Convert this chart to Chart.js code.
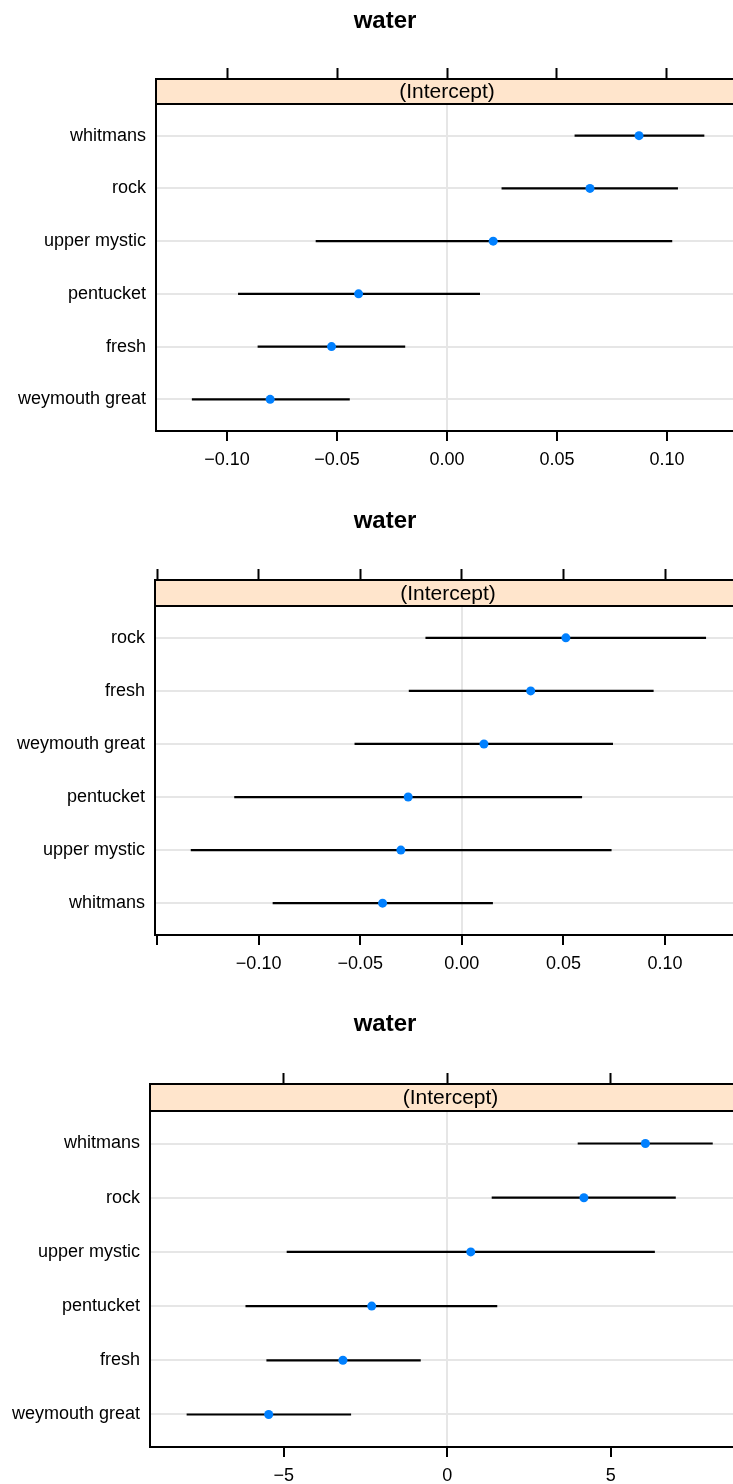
<!DOCTYPE html>
<html>
<head>
<meta charset="utf-8">
<title>water</title>
<script src="https://cdn.jsdelivr.net/npm/chart.js@4/dist/chart.umd.min.js"></script>
<style>
  html, body { margin: 0; padding: 0; background: #fff; overflow: hidden; width: 733px; height: 1484px; }
  canvas { position: absolute; left: 0; }
</style>
</head>
<body>
<canvas id="panel1"></canvas>
<canvas id="panel2"></canvas>
<canvas id="panel3"></canvas>
<script>
// Intercept estimates per lake (blue dot) with lower/upper interval ends (black bar)

// First fit
const lakes1 = ['whitmans', 'rock', 'upper mystic', 'pentucket', 'fresh', 'weymouth great'];
const est1 = [0.0873, 0.0650, 0.0210, -0.0402, -0.0525, -0.0804];
const lo1  = [0.0580, 0.0248, -0.0597, -0.0950, -0.0861, -0.1160];
const hi1  = [0.1170, 0.1050, 0.1024, 0.0150, -0.0190, -0.0442];
const xTicks1  = [-0.10, -0.05, 0, 0.05, 0.10];
const xLabels1 = ['\u22120.10', '\u22120.05', '0.00', '0.05', '0.10'];

// Second fit
const lakes2 = ['rock', 'fresh', 'weymouth great', 'pentucket', 'upper mystic', 'whitmans'];
const est2 = [0.0512, 0.0339, 0.0109, -0.0264, -0.0300, -0.0390];
const lo2  = [-0.0179, -0.0261, -0.0528, -0.1120, -0.1334, -0.0931];
const hi2  = [0.1202, 0.0944, 0.0744, 0.0592, 0.0737, 0.0153];
const xTicks2  = [-0.15, -0.10, -0.05, 0, 0.05, 0.10];
const xLabels2 = ['', '\u22120.10', '\u22120.05', '0.00', '0.05', '0.10'];

// Third fit
const lakes3 = ['whitmans', 'rock', 'upper mystic', 'pentucket', 'fresh', 'weymouth great'];
const est3 = [6.06, 4.18, 0.72, -2.31, -3.19, -5.46];
const lo3  = [3.99, 1.36, -4.91, -6.17, -5.53, -7.97];
const hi3  = [8.12, 6.99, 6.35, 1.53, -0.81, -2.94];
const xTicks3  = [-5, 0, 5];
const xLabels3 = ['\u22125', '0', '5'];

const FONT = '"Liberation Sans", Arial, Helvetica, sans-serif';
const PAGE_WIDTH = 770; // full figure width; the main title is centred on it

// Panel main title, centred on the whole figure rather than the plot box
const mainTitlePlugin = {
  id: 'mainTitle',
  afterDraw(chart, args, opts) {
    const { ctx } = chart;
    ctx.save();
    ctx.fillStyle = '#000';
    ctx.font = 'bold 24px ' + FONT;
    ctx.textAlign = 'center';
    ctx.textBaseline = 'middle';
    ctx.fillText(opts.text, PAGE_WIDTH / 2, opts.y);
    ctx.restore();
  }
};

// Shaded strip header drawn across the top band of the plotting area
const stripPlugin = {
  id: 'strip',
  beforeDatasetsDraw(chart, args, opts) {
    const { ctx, chartArea: a, scales } = chart;
    const yb = scales.y.getPixelForValue(opts.rowTop);
    ctx.save();
    ctx.fillStyle = '#ffe5cc';
    ctx.fillRect(a.left, a.top, a.right - a.left, yb - a.top);
    ctx.strokeStyle = '#000';
    ctx.lineWidth = 2;
    ctx.beginPath();
    ctx.moveTo(a.left, a.top); ctx.lineTo(a.right, a.top);
    ctx.moveTo(a.left, yb); ctx.lineTo(a.right, yb);
    ctx.moveTo(a.left, a.top); ctx.lineTo(a.left, yb);
    ctx.moveTo(a.right, a.top); ctx.lineTo(a.right, a.bottom);
    ctx.stroke();
    ctx.fillStyle = '#000';
    ctx.font = '21px ' + FONT;
    ctx.textAlign = 'center';
    ctx.textBaseline = 'middle';
    ctx.fillText(opts.text, (a.left + a.right) / 2, (a.top + yb) / 2 + 1);
    ctx.restore();
  }
};

function buildPanel(id, p) {
  const n = p.lakes.length;
  const canvas = document.getElementById(id);
  canvas.width = PAGE_WIDTH;
  canvas.height = p.height;
  canvas.style.top = p.top + 'px';

  const rowY = i => n - i;
  const intervals = p.lakes.map((name, i) => ({
    data: [{ x: p.lo[i], y: rowY(i) }, { x: p.hi[i], y: rowY(i) }],
    showLine: true,
    borderColor: '#000',
    borderWidth: 2.2,
    pointRadius: 0,
    order: 1
  }));
  const points = {
    data: p.est.map((v, i) => ({ x: v, y: rowY(i) })),
    pointRadius: 4.5,
    pointBackgroundColor: '#0080ff',
    pointBorderWidth: 0,
    showLine: false,
    order: 0
  };

  const setTicks = vals => scale => { scale.ticks = vals.map(v => ({ value: v })); };

  return new Chart(canvas, {
    type: 'scatter',
    data: { datasets: [points, ...intervals] },
    options: {
      responsive: false,
      animation: false,
      events: [],
      layout: { padding: { left: 0, top: 0, bottom: 0, right: PAGE_WIDTH - p.plotRight } },
      plugins: {
        legend: { display: false },
        tooltip: { enabled: false },
        title: { display: false },
        mainTitle: { text: 'water', y: p.titleCenter },
        strip: { text: '(Intercept)', rowTop: n + 0.6 }
      },
      scales: {
        x: {
          type: 'linear',
          position: 'bottom',
          min: p.xMin, max: p.xMax,
          afterBuildTicks: setTicks(p.xTicks),
          afterFit: s => { s.height = p.height - p.plotBottom; },
          ticks: {
            autoSkip: false,
            maxRotation: 0,
            padding: 8,
            color: '#000',
            font: { family: FONT, size: 18 },
            callback: (v, i) => p.xLabels[i]
          },
          grid: {
            color: c => (c.tick && c.tick.value === 0) ? '#e6e6e6' : 'rgba(0,0,0,0)',
            lineWidth: 2,
            tickColor: '#000',
            tickWidth: 2,
            tickLength: 10
          },
          border: { color: '#000', width: 2 }
        },
        x2: {
          type: 'linear',
          position: 'top',
          min: p.xMin, max: p.xMax,
          afterBuildTicks: setTicks(p.xTicks),
          afterFit: s => { s.height = p.stripTop; },
          ticks: { display: false },
          grid: {
            drawOnChartArea: false,
            tickColor: '#000',
            tickWidth: 2,
            tickLength: 11
          },
          border: { color: '#000', width: 2 }
        },
        y: {
          type: 'linear',
          min: 0.4,
          max: n + 0.6 + p.stripUnits,
          afterBuildTicks: scale => { scale.ticks = p.lakes.map((_, i) => ({ value: rowY(i) })); },
          afterFit: s => { s.width = p.left; },
          ticks: {
            autoSkip: false,
            padding: 10,
            color: '#000',
            font: { family: FONT, size: 18 },
            callback: (v, i) => p.lakes[i]
          },
          grid: { color: '#e6e6e6', lineWidth: 2, drawTicks: false },
          border: { color: '#000', width: 2 }
        }
      }
    },
    plugins: [stripPlugin, mainTitlePlugin]
  });
}

buildPanel('panel1', {
  lakes: lakes1, est: est1, lo: lo1, hi: hi1, xTicks: xTicks1, xLabels: xLabels1,
  xMin: -0.1323, xMax: 0.1323,
  top: 0, height: 500, left: 156, plotRight: 738,
  titleCenter: 21, stripTop: 79, plotBottom: 431, stripUnits: 0.474
});
buildPanel('panel2', {
  lakes: lakes2, est: est2, lo: lo2, hi: hi2, xTicks: xTicks2, xLabels: xLabels2,
  xMin: -0.151, xMax: 0.1374,
  top: 500, height: 500, left: 155, plotRight: 741,
  titleCenter: 21, stripTop: 80, plotBottom: 435, stripUnits: 0.49
});
buildPanel('panel3', {
  lakes: lakes3, est: est3, lo: lo3, hi: hi3, xTicks: xTicks3, xLabels: xLabels3,
  xMin: -9.09, xMax: 9.29,
  top: 1000, height: 484, left: 150, plotRight: 751,
  titleCenter: 24.5, stripTop: 84, plotBottom: 447, stripUnits: 0.498
});
</script>
</body>
</html>
